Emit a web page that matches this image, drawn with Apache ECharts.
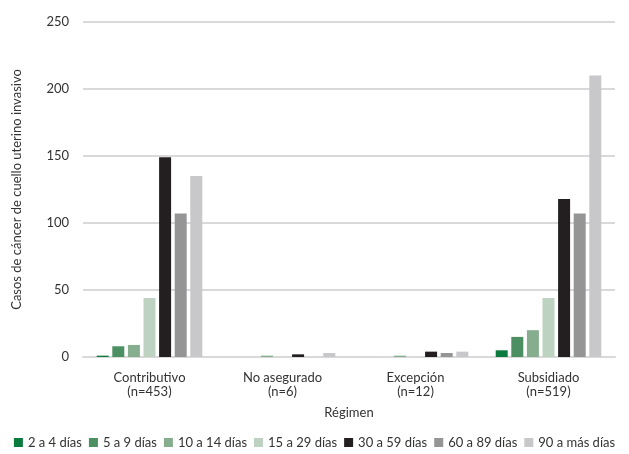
<!DOCTYPE html>
<html>
<head>
<meta charset="utf-8">
<script src="https://cdn.jsdelivr.net/npm/echarts@6/dist/echarts.min.js"></script>
<style>
  html, body { margin: 0; padding: 0; background: #fff; }
  #chart { width: 629px; height: 454px; }
</style>
</head>
<body>
<div id="chart"></div>
<script>
var categories = ['Contributivo\n(n=453)', 'No asegurado\n(n=6)', 'Excepción\n(n=12)', 'Subsidiado\n(n=519)'];
var seriesNames = ['2 a 4 días', '5 a 9 días', '10 a 14 días', '15 a 29 días', '30 a 59 días', '60 a 89 días', '90 a más días'];
var colors = ['#0b7a3f', '#4b8f62', '#86ad8d', '#bdd2c1', '#231f20', '#959595', '#c8c8ca'];
// one array per day range, in category order
var d2a4 = [1, 0, 0, 5];
var d5a9 = [8, 0, 0, 15];
var d10a14 = [9, 1, 1, 20];
var d15a29 = [44, 0, 0, 44];
var d30a59 = [149, 2, 4, 118];
var d60a89 = [107, 0, 3, 107];
var d90mas = [135, 3, 4, 210];
var values = [d2a4, d5a9, d10a14, d15a29, d30a59, d60a89, d90mas];

var font = 'Lato';
var chart = echarts.init(document.getElementById('chart'));

var series = seriesNames.map(function(name, i) {
  return {
    name: name,
    type: 'bar',
    data: values[i],
    barWidth: 12,
    barGap: '30%',
    itemStyle: { color: colors[i] }
  };
});

chart.setOption({
  animation: false,
  textStyle: { fontFamily: font },
  grid: { left: 83, right: 14, top: 22, bottom: 97 },
  legend: {
    bottom: 0,
    left: 'center',
    padding: [5, 0],
    itemWidth: 9,
    itemHeight: 9,
    itemGap: 7,
    icon: 'rect',
    textStyle: { fontFamily: font, fontSize: 13, color: '#333' },
    data: seriesNames
  },
  xAxis: {
    type: 'category',
    data: categories,
    name: 'Régimen',
    nameLocation: 'middle',
    nameGap: 49,
    nameTextStyle: { fontFamily: font, fontSize: 13, color: '#333' },
    axisTick: { show: false },
    axisLine: { lineStyle: { color: '#d9d9d9', width: 2 } },
    axisLabel: { fontFamily: font, fontSize: 13, color: '#333', lineHeight: 14, margin: 14 }
  },
  yAxis: {
    type: 'value',
    min: 0,
    max: 250,
    interval: 50,
    name: 'Casos de cáncer de cuello uterino invasivo',
    nameLocation: 'middle',
    nameGap: 60,
    nameTextStyle: { fontFamily: font, fontSize: 13, color: '#333' },
    axisLabel: { fontFamily: font, fontSize: 13, color: '#333', margin: 14 },
    splitLine: { lineStyle: { color: '#d9d9d9', width: 2 } }
  },
  series: series
});
</script>
</body>
</html>
